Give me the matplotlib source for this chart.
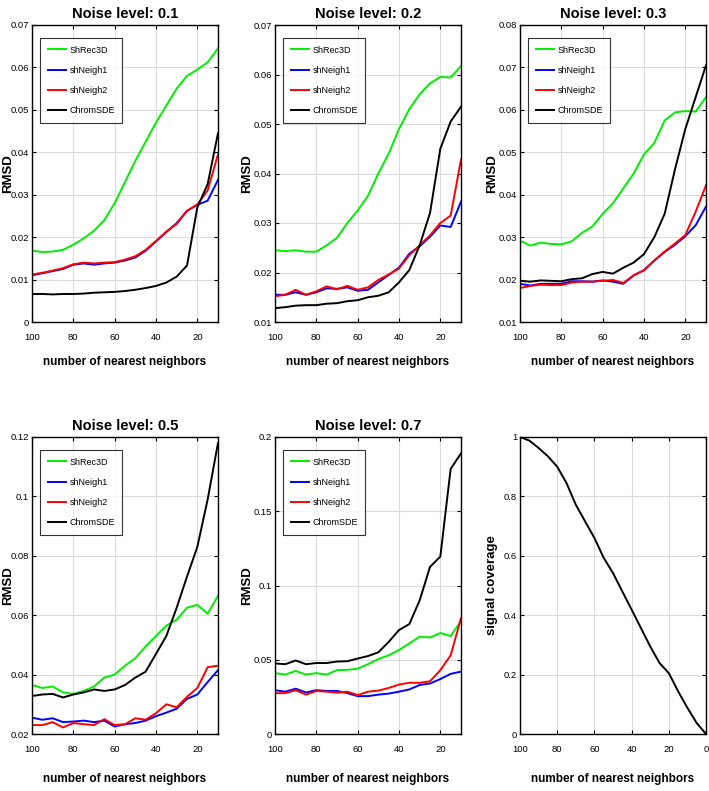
import numpy as np
import matplotlib
matplotlib.use('Agg')
import matplotlib.pyplot as plt

plt.rcParams['font.family'] = ['Liberation Sans', 'DejaVu Sans']

# number of nearest neighbors
k = [100, 95, 90, 85, 80, 75, 70, 65, 60, 55, 50, 45, 40, 35, 30, 25, 20, 15, 10]
k_cov = [100, 95, 90, 85, 80, 75, 70, 65, 60, 55, 50, 45, 40, 35, 30, 25, 20, 15, 10, 5, 0]

methods = ['ShRec3D', 'shNeigh1', 'shNeigh2', 'ChromSDE']
colors = ['#00ee00', '#0000ff', '#ff0000', '#000000']

# noise 0.1
n01_shrec = [0.0168, 0.0165, 0.0166, 0.0170, 0.0182, 0.0197, 0.0215, 0.0240, 0.0280, 0.0330,
             0.0380, 0.0425, 0.0470, 0.0510, 0.0550, 0.0580, 0.0595, 0.0612, 0.0645]
n01_nb1 = [0.0110, 0.0115, 0.0120, 0.0125, 0.0135, 0.0138, 0.0135, 0.0138, 0.0140, 0.0145,
           0.0152, 0.0168, 0.0190, 0.0212, 0.0233, 0.0262, 0.0276, 0.0286, 0.0335]
n01_nb2 = [0.0112, 0.0116, 0.0121, 0.0127, 0.0136, 0.0140, 0.0138, 0.0140, 0.0141, 0.0147,
           0.0155, 0.0170, 0.0191, 0.0213, 0.0231, 0.0262, 0.0277, 0.0310, 0.0395]
n01_chrom = [0.0066, 0.0066, 0.0065, 0.0066, 0.0066, 0.0067, 0.0069, 0.0070, 0.0071, 0.0073,
             0.0076, 0.0080, 0.0085, 0.0093, 0.0107, 0.0133, 0.0270, 0.0325, 0.0445]

# noise 0.2
n02_shrec = [0.0245, 0.0243, 0.0245, 0.0242, 0.0242, 0.0255, 0.0270, 0.0300, 0.0325, 0.0355,
             0.0400, 0.0440, 0.0490, 0.0530, 0.0560, 0.0582, 0.0595, 0.0594, 0.0617]
n02_nb1 = [0.0155, 0.0155, 0.0160, 0.0155, 0.0160, 0.0168, 0.0167, 0.0170, 0.0163, 0.0165,
           0.0180, 0.0195, 0.0210, 0.0238, 0.0253, 0.0272, 0.0295, 0.0292, 0.0343]
n02_nb2 = [0.0152, 0.0155, 0.0165, 0.0155, 0.0162, 0.0172, 0.0166, 0.0173, 0.0165, 0.0170,
           0.0185, 0.0196, 0.0208, 0.0235, 0.0255, 0.0275, 0.0300, 0.0315, 0.0428]
n02_chrom = [0.0128, 0.0130, 0.0133, 0.0134, 0.0134, 0.0137, 0.0138, 0.0142, 0.0144, 0.0150,
             0.0153, 0.0160, 0.0180, 0.0205, 0.0255, 0.0320, 0.0450, 0.0505, 0.0535]

# noise 0.3
n03_shrec = [0.0292, 0.0280, 0.0287, 0.0284, 0.0283, 0.0290, 0.0310, 0.0325, 0.0355, 0.0380,
             0.0415, 0.0450, 0.0495, 0.0522, 0.0575, 0.0594, 0.0597, 0.0596, 0.0630]
n03_nb1 = [0.0190, 0.0186, 0.0190, 0.0190, 0.0190, 0.0196, 0.0196, 0.0195, 0.0198, 0.0195,
           0.0190, 0.0210, 0.0222, 0.0245, 0.0265, 0.0282, 0.0302, 0.0328, 0.0372]
n03_nb2 = [0.0180, 0.0185, 0.0188, 0.0187, 0.0187, 0.0193, 0.0195, 0.0195, 0.0197, 0.0199,
           0.0192, 0.0210, 0.0222, 0.0245, 0.0266, 0.0285, 0.0305, 0.0360, 0.0422]
n03_chrom = [0.0197, 0.0195, 0.0198, 0.0197, 0.0196, 0.0201, 0.0203, 0.0213, 0.0218, 0.0214,
             0.0228, 0.0240, 0.0260, 0.0300, 0.0355, 0.0460, 0.0555, 0.0630, 0.0705]

# noise 0.5
n05_shrec = [0.0365, 0.0355, 0.0360, 0.0340, 0.0335, 0.0345, 0.0360, 0.0390, 0.0400, 0.0430,
             0.0455, 0.0495, 0.0530, 0.0565, 0.0585, 0.0625, 0.0635, 0.0605, 0.0665]
n05_nb1 = [0.0255, 0.0248, 0.0253, 0.0240, 0.0242, 0.0245, 0.0240, 0.0245, 0.0225, 0.0233,
           0.0237, 0.0245, 0.0260, 0.0272, 0.0285, 0.0318, 0.0333, 0.0375, 0.0415]
n05_nb2 = [0.0230, 0.0230, 0.0240, 0.0222, 0.0237, 0.0233, 0.0230, 0.0250, 0.0230, 0.0233,
           0.0253, 0.0248, 0.0270, 0.0300, 0.0290, 0.0325, 0.0355, 0.0425, 0.0430]
n05_chrom = [0.0328, 0.0333, 0.0335, 0.0323, 0.0333, 0.0340, 0.0350, 0.0345, 0.0350, 0.0365,
             0.0390, 0.0410, 0.0470, 0.0530, 0.0625, 0.0730, 0.0830, 0.0990, 0.1180]

# noise 0.7
n07_shrec = [0.0410, 0.0400, 0.0425, 0.0400, 0.0410, 0.0400, 0.0430, 0.0432, 0.0440, 0.0470,
             0.0505, 0.0530, 0.0565, 0.0610, 0.0655, 0.0650, 0.0680, 0.0660, 0.0760]
n07_nb1 = [0.0295, 0.0285, 0.0305, 0.0280, 0.0295, 0.0290, 0.0290, 0.0275, 0.0255, 0.0255,
           0.0265, 0.0272, 0.0285, 0.0300, 0.0330, 0.0340, 0.0370, 0.0405, 0.0420]
n07_nb2 = [0.0275, 0.0275, 0.0295, 0.0265, 0.0290, 0.0285, 0.0278, 0.0285, 0.0262, 0.0285,
           0.0292, 0.0310, 0.0333, 0.0345, 0.0345, 0.0355, 0.0430, 0.0530, 0.0780]
n07_chrom = [0.0475, 0.0470, 0.0495, 0.0470, 0.0478, 0.0478, 0.0488, 0.0490, 0.0508, 0.0525,
             0.0550, 0.0620, 0.0700, 0.0740, 0.0900, 0.1125, 0.1195, 0.1785, 0.1890]

coverage = [1.0, 0.988, 0.963, 0.935, 0.90, 0.845, 0.772, 0.716, 0.66, 0.593, 0.542,
            0.48, 0.419, 0.357, 0.295, 0.239, 0.205, 0.144, 0.088, 0.037, 0.0]

panels = [
    ('Noise level: 0.1', [n01_shrec, n01_nb1, n01_nb2, n01_chrom], (0, 0.07), 0.01),
    ('Noise level: 0.2', [n02_shrec, n02_nb1, n02_nb2, n02_chrom], (0.01, 0.07), 0.01),
    ('Noise level: 0.3', [n03_shrec, n03_nb1, n03_nb2, n03_chrom], (0.01, 0.08), 0.01),
    ('Noise level: 0.5', [n05_shrec, n05_nb1, n05_nb2, n05_chrom], (0.02, 0.12), 0.02),
    ('Noise level: 0.7', [n07_shrec, n07_nb1, n07_nb2, n07_chrom], (0, 0.2), 0.05),
]

W, H = 709, 791
fig = plt.figure(figsize=(W / 100, H / 100), dpi=100)

lefts = [32, 275, 520]
tops = [25, 437]
aw, ah = 186, 297


def make_ax(col, row):
    l = lefts[col]
    t = tops[row]
    return fig.add_axes([l / W, 1 - (t + ah) / H, aw / W, ah / H])


def style(ax, col, row):
    ax.grid(True, color='#dcdcdc', lw=0.8)
    ax.set_axisbelow(True)
    ax.tick_params(direction='in', top=True, right=True, labelsize=6.8, length=3, width=0.8, pad=2)
    ax.tick_params(axis='x', pad=8)
    for s in ax.spines.values():
        s.set_linewidth(1.0)
    ax.set_xlabel('number of nearest neighbors', fontsize=8.5, fontweight='bold')
    ax.xaxis.set_label_coords(0.5, -0.115 if row == 0 else -0.13)
    ax.yaxis.label.set_verticalalignment('center')
    ax.yaxis.set_label_coords(-0.127 if col == 0 else -0.15, 0.5)


for i, (title, series, ylim, ystep) in enumerate(panels):
    ax = make_ax(i % 3, i // 3)
    for name, c, vals in zip(methods, colors, series):
        ax.plot(k, vals, color=c, lw=1.4, label=name)
    ax.set_xlim(100, 10)
    ax.set_xticks([100, 80, 60, 40, 20])
    ax.set_ylim(*ylim)
    yt = np.arange(ylim[0], ylim[1] + ystep / 2, ystep)
    ax.set_yticks(yt)
    ax.set_yticklabels(['0' if abs(v) < 1e-9 else ('%g' % round(v, 3)) for v in yt])
    ax.set_title(title, fontsize=10.5, fontweight='bold', pad=5)
    ax.set_ylabel('RMSD', fontsize=9.5, fontweight='bold')
    style(ax, i % 3, i // 3)
    leg = ax.legend(loc='upper left', bbox_to_anchor=(0.045, 0.955), fontsize=6.5, frameon=True,
                    fancybox=False, edgecolor='black', handlelength=2.0, borderpad=0.8,
                    labelspacing=1.25, handletextpad=0.4, borderaxespad=0)
    leg.get_frame().set_linewidth(0.8)

ax = make_ax(2, 1)
ax.plot(k_cov, coverage, color='black', lw=1.4)
ax.set_xlim(100, 0)
ax.set_xticks([100, 80, 60, 40, 20, 0])
ax.set_ylim(0, 1)
ax.set_yticks([0, 0.2, 0.4, 0.6, 0.8, 1])
ax.set_yticklabels(['0', '0.2', '0.4', '0.6', '0.8', '1'])
ax.set_ylabel('signal coverage', fontsize=9.5, fontweight='bold')
style(ax, 2, 1)

fig.savefig('out.png', dpi=100)
